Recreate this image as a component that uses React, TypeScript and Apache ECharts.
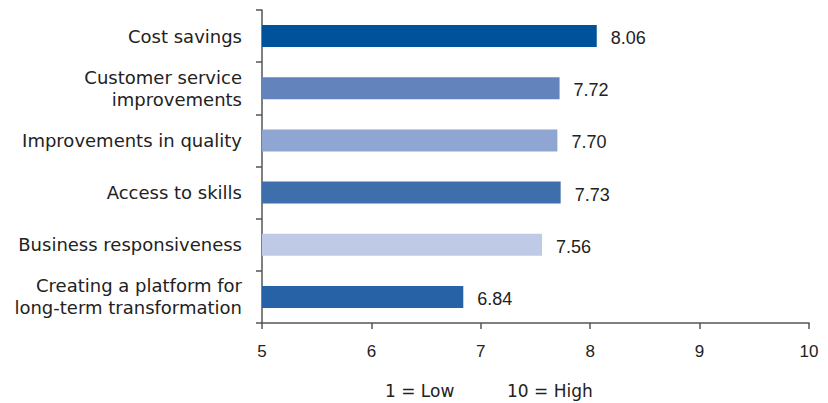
import React, { useEffect, useRef } from "react";
import * as echarts from "echarts";

const categories = [
  "Cost savings",
  "Customer service\nimprovements",
  "Improvements in quality",
  "Access to skills",
  "Business responsiveness",
  "Creating a platform for\nlong-term transformation",
];
const values = [8.06, 7.72, 7.7, 7.73, 7.56, 6.84];
const barColors = ["#00529B", "#6383BC", "#8FA5D2", "#3F6EAD", "#BFCAE6", "#2862A6"];
const xTicks = [5, 6, 7, 8, 9, 10];
const scaleNotes = ["1 = Low", "10 = High"];

const FONT = "'Liberation Sans', Arial, sans-serif";
const WIDE = "'DejaVu Sans', sans-serif";

export default function App() {
  const ref = useRef<HTMLDivElement>(null);
  useEffect(() => {
    if (!ref.current) return;
    const chart = echarts.init(ref.current, undefined, { renderer: "svg" });
    chart.setOption({
      animation: false,
      textStyle: { fontFamily: FONT },
      grid: { left: 262, right: 19, top: 10, bottom: 80, containLabel: false },
      xAxis: {
        type: "value",
        min: xTicks[0],
        max: xTicks[xTicks.length - 1],
        interval: 1,
        splitLine: { show: false },
        axisLine: { show: true, lineStyle: { color: "#555", width: 1.5 } },
        axisTick: { show: true, length: 6, lineStyle: { color: "#555", width: 1.5 } },
        axisLabel: { color: "#222", fontSize: 17, margin: 20, fontFamily: FONT },
      },
      yAxis: {
        type: "category",
        data: categories,
        inverse: true,
        axisLine: { show: true, lineStyle: { color: "#555", width: 1.5 } },
        axisTick: { show: true, length: 6, lineStyle: { color: "#555", width: 1.5 } },
        axisLabel: {
          color: "#222",
          fontSize: 18,
          lineHeight: 22,
          margin: 20,
          align: "right",
          fontFamily: WIDE,
        },
      },
      series: [
        {
          type: "bar",
          data: values.map((v, i) => ({ value: v, itemStyle: { color: barColors[i] } })),
          barWidth: 22,
          label: {
            show: true,
            position: "right",
            distance: 14,
            offset: [0, 2],
            color: "#222",
            fontSize: 18,
            fontFamily: FONT,
            formatter: (p: any) => Number(p.value).toFixed(2),
          },
        },
      ],
      graphic: [
        {
          type: "text",
          left: 385,
          top: 382,
          style: { text: scaleNotes[0], fontSize: 17, fill: "#222", fontFamily: WIDE },
        },
        {
          type: "text",
          left: 507,
          top: 382,
          style: { text: scaleNotes[1], fontSize: 17, fill: "#222", fontFamily: WIDE },
        },
      ],
    });
    return () => chart.dispose();
  }, []);
  return <div ref={ref} style={{ width: 828, height: 403, position: "absolute", left: 0, top: 0 }} />;
}
